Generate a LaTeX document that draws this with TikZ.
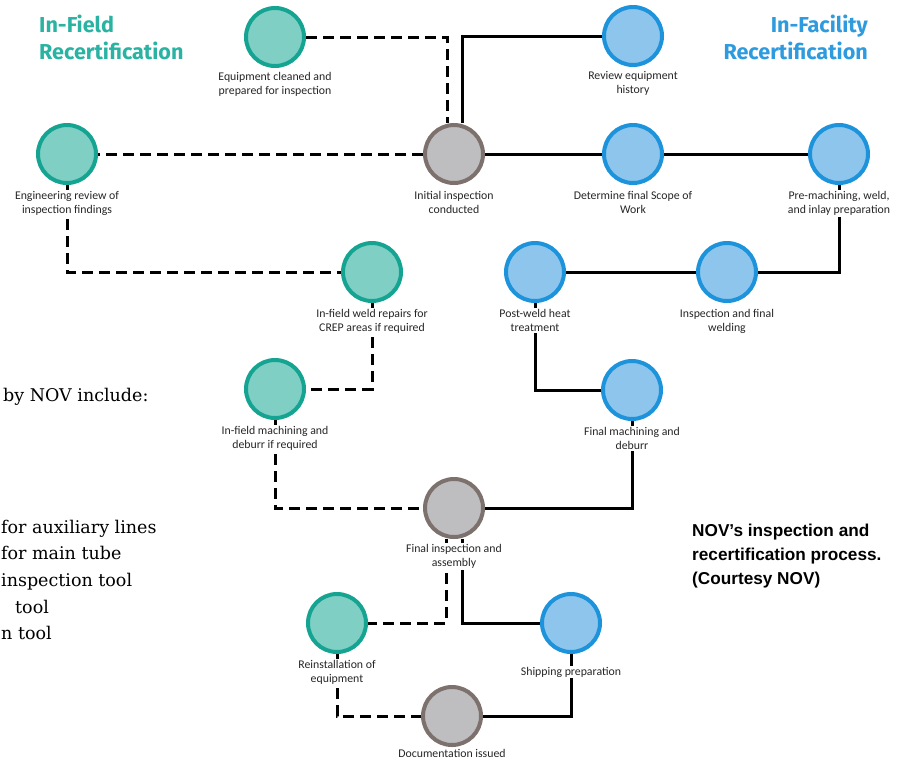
\documentclass[tikz,border=0pt]{standalone}
\usepackage{fontspec}
\setmainfont{Carlito}
\newfontfamily\headfont{Fira Sans}
\newfontfamily\capfont{Liberation Sans}
\newfontfamily\bodyfont{DejaVu Serif}
\usetikzlibrary{positioning,backgrounds}
\definecolor{fieldfill}{HTML}{80CFC5}
\definecolor{fieldline}{HTML}{14A491}
\definecolor{facfill}{HTML}{8EC5EC}
\definecolor{facline}{HTML}{1C93DB}
\definecolor{sharedfill}{HTML}{BEBEC0}
\definecolor{sharedline}{HTML}{7D716E}
\definecolor{fieldhead}{HTML}{2AB3A2}
\definecolor{fachead}{HTML}{2E9BDF}

\begin{document}
\begin{tikzpicture}[x=1pt,y=-1pt,
    stage/.style={circle,minimum size=58pt,line width=4pt,inner sep=0pt},
    field/.style={stage,draw=fieldline,fill=fieldfill},
    facility/.style={stage,draw=facline,fill=facfill},
    shared/.style={stage,draw=sharedline,fill=sharedfill},
    lbl/.style={font=\fontsize{11.8}{14.5}\selectfont,text=black!85,align=center,
                fill=white,inner sep=1pt},
    head/.style={font=\headfont\bfseries\fontsize{21.6}{27}\selectfont,inner sep=0pt},
    frag/.style={font=\bodyfont\fontsize{17.5}{26}\selectfont,anchor=base west,inner sep=0pt},
    solidline/.style={line width=3pt},
    dashline/.style={line width=3pt,dash pattern=on 11pt off 6pt}
]
\useasboundingbox (0,0) rectangle (904,761);

% stages
\node[field]    (clean)     at (275,37)  {};
\node[facility] (history)   at (633,36)  {};
\node[field]    (review)    at (67,154)  {};
\node[shared]   (initial)   at (454,154) {};
\node[facility] (scope)     at (633,154) {};
\node[facility] (premach)   at (839,154) {};
\node[field]    (weldrep)   at (372,272) {};
\node[facility] (postweld)  at (535,272) {};
\node[facility] (finweld)   at (727,272) {};
\node[field]    (fldmach)   at (275,389) {};
\node[facility] (finmach)   at (632,390) {};
\node[shared]   (finalinsp) at (454,508) {};
\node[field]    (reinst)    at (337,623) {};
\node[facility] (ship)      at (571,623) {};
\node[shared]   (docs)      at (452,716) {};

% labels
\node[lbl,below=3pt of clean]     {Equipment cleaned and\\prepared for inspection};
\node[lbl,below=3pt of history]   {Review equipment\\history};
\node[lbl,below=5pt of review]    {Engineering review of\\inspection findings};
\node[lbl,below=5pt of initial]   {Initial inspection\\conducted};
\node[lbl,below=5pt of scope]     {Determine final Scope of\\Work};
\node[lbl,below=5pt of premach]   {Pre-machining, weld,\\and inlay preparation};
\node[lbl,below=5pt of weldrep]   {In-field weld repairs for\\CREP areas if required};
\node[lbl,below=5pt of postweld]  {Post-weld heat\\treatment};
\node[lbl,below=5pt of finweld]   {Inspection and final\\welding};
\node[lbl,below=5pt of fldmach]   {In-field machining and\\deburr if required};
\node[lbl,below=5pt of finmach]   {Final machining and\\deburr};
\node[lbl,below=4pt of finalinsp] {Final inspection and\\assembly};
\node[lbl,below=5pt of reinst]    {Reinstallation of\\equipment};
\node[lbl,below=12pt of ship]     {Shipping preparation};
\node[lbl,below=1pt of docs]      {Documentation issued};

% headings and caption
\node[head,text=fieldhead,anchor=north west,align=left] (fieldtitle) at (39,15) {In-Field\\Recertification};
\node[head,text=fachead,anchor=north east,align=right] (factitle) at (868,15) {In-Facility\\Recertification};
\node[font=\capfont\bfseries\fontsize{17.2}{24}\selectfont,anchor=north west,align=left,inner sep=0pt]
    (caption) at (692,524) {NOV’s inspection and\\recertification process.\\(Courtesy NOV)};

% text cut from the page beside the figure
\node[frag] (frag1) at (3,401) {by NOV include:};
\node[frag] (frag2) at (1,533) {for auxiliary lines};
\node[frag] (frag3) at (1,559) {for main tube};
\node[frag] (frag4) at (1,586) {inspection tool};
\node[frag] (frag5) at (15,613) {tool};
\node[frag] (frag6) at (1,639) {n tool};

% connectors
\begin{scope}[on background layer]
\fill[white] (0,0) rectangle (904,761);
\draw[dashline] (clean.east) -| ([xshift=-7pt]initial.north);
\draw[dashline] (initial.west) -- (review.east);
\draw[dashline] (review.south) |- (weldrep.west);
\draw[dashline] (weldrep.south) |- (fldmach.east);
\draw[dashline] (fldmach.south) |- (finalinsp.west);
\draw[dashline] ([xshift=-8pt]finalinsp.south) |- (reinst.east);
\draw[dashline] (reinst.south) |- (docs.west);

\draw[solidline] ([xshift=8pt]initial.north) |- (history.west);
\draw[solidline] (initial.east) -- (scope.west);
\draw[solidline] (scope.east) -- (premach.west);
\draw[solidline] (premach.south) |- (finweld.east);
\draw[solidline] (finweld.west) -- (postweld.east);
\draw[solidline] (postweld.south) |- (finmach.west);
\draw[solidline] (finmach.south) |- (finalinsp.east);
\draw[solidline] ([xshift=8pt]finalinsp.south) |- (ship.west);
\draw[solidline] (ship.south) |- (docs.east);
\end{scope}
\end{tikzpicture}
\end{document}
